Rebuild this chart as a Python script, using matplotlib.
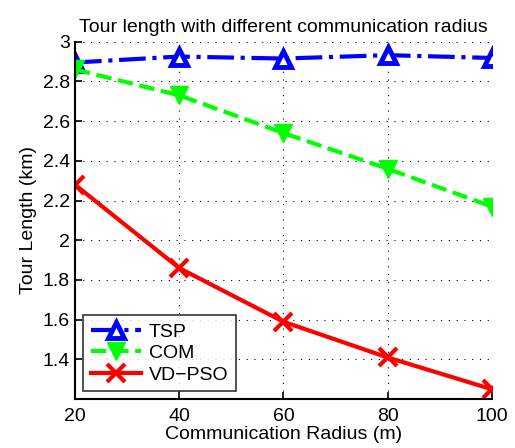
import matplotlib
matplotlib.use("Agg")
import matplotlib.pyplot as plt

radius = [20, 40, 60, 80, 100]
tsp = [2.895, 2.925, 2.915, 2.932, 2.918]
com = [2.86, 2.73, 2.54, 2.36, 2.17]
vdpso = [2.28, 1.86, 1.59, 1.41, 1.25]
yticks = [1.4, 1.6, 1.8, 2.0, 2.2, 2.4, 2.6, 2.8, 3.0]
ytick_labels = ["1.4", "1.6", "1.8", "2", "2.2", "2.4", "2.6", "2.8", "3"]

plt.rcParams['font.family'] = ['Liberation Sans', 'DejaVu Sans']
fig = plt.figure(figsize=(5.15, 4.48), dpi=100)
ax = fig.add_axes([0.1456, 0.109, 0.8094, 0.798])

ax.plot(radius, tsp, color='#0000ff', linestyle='-.', linewidth=3, marker='^',
        markersize=12, markerfacecolor='white', markeredgecolor='#0000ff', markeredgewidth=3.5, label='TSP')
ax.plot(radius, com, color='#00ff00', linestyle='--', linewidth=3, marker='v',
        markersize=13, markerfacecolor='#00ff00', markeredgecolor='#00ff00', label='COM')
ax.plot(radius, vdpso, color='#ff0000', linestyle='-', linewidth=3, marker='x',
        markersize=13, markeredgewidth=3, label='VD\u2212PSO')

ax.set_xlim(20, 100)
ax.set_ylim(1.2, 3.0)
ax.set_xticks(radius)
ax.set_yticks(yticks)
ax.set_yticklabels(ytick_labels)
ax.grid(True, color='black', linestyle=(0, (1, 6)), linewidth=0.8)
for s in ['top', 'right']:
    ax.spines[s].set_visible(False)
for s in ['left', 'bottom']:
    ax.spines[s].set_linewidth(1.5)
ax.tick_params(direction='in', labelsize=14, width=1.2, length=5)
ax.tick_params(axis='x', pad=6)

ax.set_title('Tour length with different communication radius', fontsize=14, pad=7)
ax.set_xlabel('Communication Radius (m)', fontsize=14, labelpad=1)
ax.set_ylabel('Tour Length (km)', fontsize=14, labelpad=4)

leg = ax.legend(loc='lower left', fontsize=14, fancybox=False, edgecolor='black',
                handlelength=2.6, handletextpad=0.4, labelspacing=0.2,
                borderaxespad=0.4, borderpad=0.4)
leg.get_frame().set_linewidth(1.2)

fig.savefig('out.png', dpi=100)
